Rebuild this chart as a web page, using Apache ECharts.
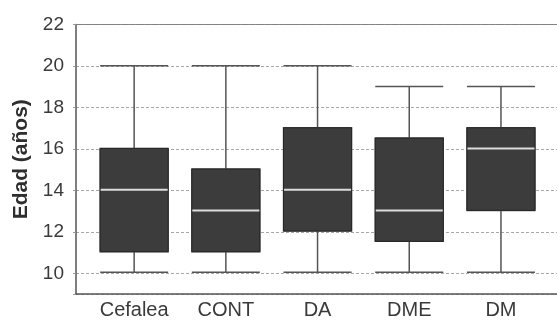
<!DOCTYPE html>
<html>
<head>
<meta charset="utf-8">
<script src="https://cdn.jsdelivr.net/npm/echarts@6/dist/echarts.min.js"></script>
<style>
  html, body { margin: 0; padding: 0; background: #ffffff; }
  #chart { width: 557px; height: 320px; }
</style>
</head>
<body>
<div id="chart"></div>
<script>
// Age distribution per diagnostic group
var categories = ['Cefalea', 'CONT', 'DA', 'DME', 'DM'];
var minValues    = [10, 10, 10, 10, 10];
var q1Values     = [11, 11, 12, 11.5, 13];
var medianValues = [14, 13, 14, 13, 16];
var q3Values     = [16, 15, 17, 16.5, 17];
var maxValues    = [20, 20, 20, 19, 19];

var boxData = categories.map(function (c, i) {
  return [minValues[i], q1Values[i], medianValues[i], q3Values[i], maxValues[i]];
});
var bodyData = categories.map(function (c, i) {
  return [i, q1Values[i], medianValues[i], q3Values[i]];
});

var FONT = '"Liberation Sans", Arial, sans-serif';
var BOX_W = 68;

var chart = echarts.init(document.getElementById('chart'), null, { renderer: 'canvas' });

chart.setOption({
  animation: false,
  backgroundColor: '#ffffff',
  grid: [
    // frame: axes and dashed grid lines over the full plot width
    { left: 76, right: -2, top: 24.5, bottom: 26, containLabel: false },
    // boxes, centred in five bands
    { left: 88.3, right: 10.2, top: 24.5, bottom: 26, containLabel: false }
  ],
  xAxis: [
    {
      gridIndex: 0, type: 'value', min: 0, max: 1, position: 'bottom',
      axisLine: { show: true, onZero: false, lineStyle: { color: '#555555', width: 1.5 } },
      axisTick: { show: false }, axisLabel: { show: false }, splitLine: { show: false }
    },
    {
      gridIndex: 1, type: 'category', data: categories, position: 'bottom',
      axisLine: { show: false }, axisTick: { show: false }, splitLine: { show: false },
      axisLabel: { color: '#3a3a3a', fontSize: 20, fontFamily: FONT, margin: 7 }
    },
    {
      gridIndex: 0, type: 'value', min: 0, max: 1, position: 'top',
      axisLine: { show: true, onZero: false, lineStyle: { color: '#808080', width: 1.2, type: [2, 1] } },
      axisTick: { show: false }, axisLabel: { show: false }, splitLine: { show: false }
    }
  ],
  yAxis: [
    {
      gridIndex: 0, type: 'value', min: 9, max: 22, splitNumber: 6,
      name: 'Edad (años)', nameLocation: 'middle', nameGap: 40,
      nameTextStyle: { color: '#2e2e2e', fontSize: 21, fontWeight: 'bold', fontFamily: FONT },
      axisLine: { show: true, onZero: false, lineStyle: { color: '#555555', width: 1.5 } },
      axisTick: { show: true, length: 3, lineStyle: { color: '#999999' } },
      axisLabel: {
        color: '#3a3a3a', fontSize: 19, fontFamily: FONT, margin: 12,
        formatter: function (v) { return v % 2 === 0 ? String(v) : ''; }
      },
      splitLine: { show: true, lineStyle: { color: '#a8a8a8', width: 1, type: [3, 2] } }
    },
    {
      gridIndex: 1, type: 'value', min: 9, max: 22, show: false,
      splitLine: { show: false }
    }
  ],
  series: [
    {
      // whiskers and caps
      type: 'boxplot', xAxisIndex: 1, yAxisIndex: 1,
      data: boxData,
      boxWidth: [BOX_W, BOX_W],
      itemStyle: { color: '#3c3c3c', borderColor: '#555555', borderWidth: 1.5 },
      emphasis: { disabled: true }
    },
    {
      // box body with light median line
      type: 'custom', xAxisIndex: 1, yAxisIndex: 1,
      data: bodyData,
      z: 5,
      renderItem: function (params, api) {
        var x = api.value(0);
        var pQ1 = api.coord([x, api.value(1)]);
        var pMed = api.coord([x, api.value(2)]);
        var pQ3 = api.coord([x, api.value(3)]);
        var half = BOX_W / 2;
        return {
          type: 'group',
          children: [
            {
              type: 'rect',
              shape: { x: pQ3[0] - half, y: pQ3[1], width: BOX_W, height: pQ1[1] - pQ3[1] },
              style: { fill: '#3c3c3c', stroke: '#262626', lineWidth: 1 }
            },
            {
              type: 'line',
              shape: { x1: pMed[0] - half + 0.5, y1: pMed[1], x2: pMed[0] + half - 0.5, y2: pMed[1] },
              style: { stroke: '#dcdcdc', lineWidth: 2 }
            }
          ]
        };
      }
    }
  ]
});
</script>
</body>
</html>
